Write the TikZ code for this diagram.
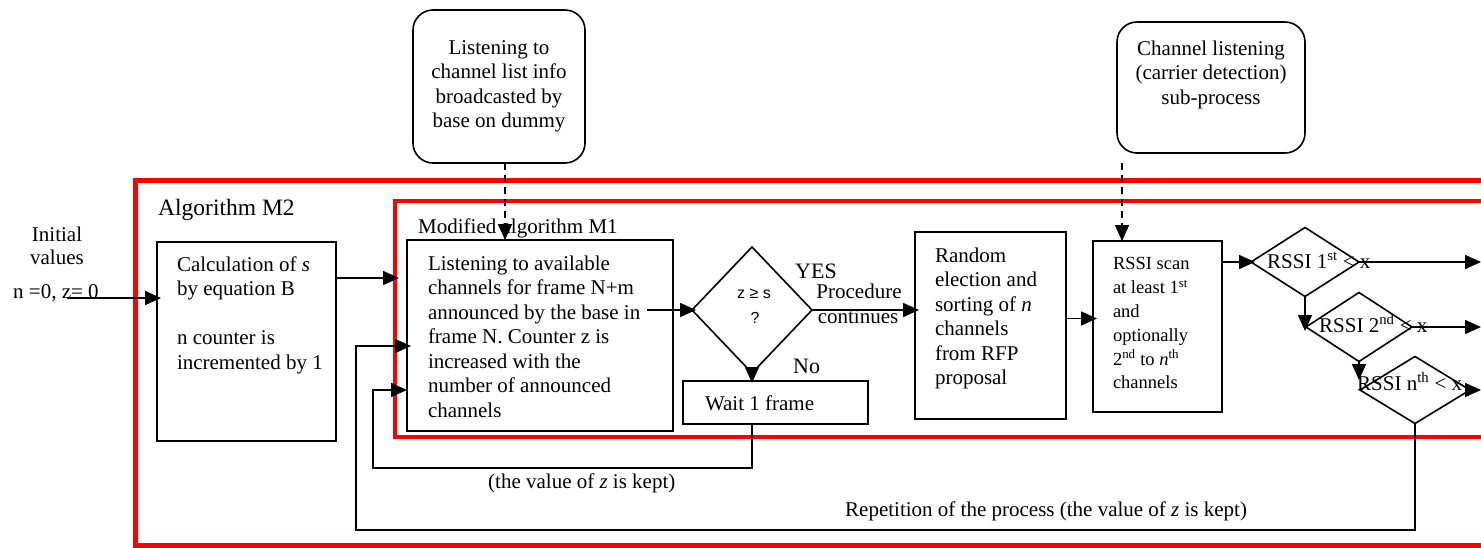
\documentclass[tikz,border=0pt]{standalone}
\usepackage{fontspec}
\setmainfont{Liberation Serif}
\newfontfamily\sansf{Liberation Sans}
\usetikzlibrary{arrows.meta,shapes.geometric}
\newcommand\bxt[5]{\hspace*{#3}\parbox[c][#2][t]{\dimexpr#1-#3\relax}{\vspace*{#4}\raggedright\strut #5}}
\newcommand\bxc[4]{\parbox[c][#2][t]{#1}{\vspace*{#3}\centering\strut #4}}
\tikzset{
  bx/.style={draw, line width=1.6pt, inner sep=0pt, outer sep=0pt, anchor=north west, rectangle},
  rbx/.style={bx, rounded corners=20pt},
  dia/.style={diamond, draw, line width=1.6pt, inner sep=0pt, outer sep=0pt},
  arr/.style={line width=1.6pt, -{Triangle[length=16pt,width=14pt]}, shorten >=-4pt},
  darr/.style={line width=1.6pt, -{Triangle[length=16pt,width=14pt]}, dash pattern=on 7pt off 5pt},
  lbl/.style={inner sep=0pt, anchor=base west},
  redframe/.style={draw=red}
}
\begin{document}
\begin{tikzpicture}[x=1pt,y=-1pt, every node/.style={font=\fontsize{21}{24.5}\selectfont}]
\useasboundingbox (0,0) rectangle (1481,547);
\clip (0,0) rectangle (1481,547);
% red frames
\draw[redframe, line width=5pt] (135,180) rectangle (1500,545);
\draw[redframe, line width=4pt] (395,201) rectangle (1500,437);

% boxes
\node[bx] (calc) at (157,242) {\bxt{179pt}{199pt}{20pt}{12pt}{Calculation of \textit{s}\\by equation B\\\mbox{}\\n counter is\\incremented by 1}};
\node[bx] (M1) at (407,240) {\bxt{266pt}{191pt}{21pt}{13pt}{Listening to available\\channels for frame N+m\\announced by the base in\\frame N. Counter z is\\increased with the\\number of announced\\channels}};
\node[bx] (wait) at (683,381) {\bxt{185pt}{43pt}{22pt}{12pt}{Wait 1 frame}};
\node[bx] (rand) at (915,232) {\bxt{151pt}{187pt}{20pt}{13pt}{Random\\election and\\sorting of \textit{n}\\channels\\from RFP\\proposal}};
\node[bx, font=\fontsize{18.5}{23.8}\selectfont] (scan) at (1093,241) {\bxt{129pt}{171pt}{20pt}{12.3pt}{RSSI scan\\at least 1\textsuperscript{st}\\and\\optionally\\2\textsuperscript{nd} to \textit{n}\textsuperscript{th}\\channels}};
\node[rbx] (rb1) at (413,10) {\bxc{172pt}{153pt}{27pt}{Listening to\\channel list info\\broadcasted by\\base on dummy}};
\node[rbx] (rb2) at (1117,22) {\bxc{188pt}{131pt}{16pt}{Channel listening\\(carrier detection)\\sub-process}};

% diamonds
\node[dia, minimum width=120pt, minimum height=126pt] (dz) at (752,310) {};
\node[dia, minimum width=108pt, minimum height=69pt] (d1) at (1305,262) {};
\node[dia, minimum width=106pt, minimum height=69pt] (d2) at (1359,327) {};
\node[dia, minimum width=110pt, minimum height=67pt] (d3) at (1415,390) {};

% labels
\node[lbl, font=\fontsize{23.5}{26}\selectfont] (algm2) at (158,215) {Algorithm M2};
\node[inner sep=0pt, anchor=base] (init1) at (57,241) {Initial};
\node[inner sep=0pt, anchor=base] (init2) at (57,264) {values};
\node[lbl] (init3) at (13,298) {n =0, z= 0};
\node[lbl] (m1lbl) at (418,233) {Modified algorithm M1};
\node[inner sep=0pt, anchor=base, font=\sansf\fontsize{16}{20}\selectfont] (dzt1) at (754,298) {z ≥ s};
\node[inner sep=0pt, anchor=base, font=\sansf\fontsize{16}{20}\selectfont] (dzt2) at (755,323) {?};
\node[lbl, font=\fontsize{22}{26}\selectfont] (yes) at (795,278) {YES};
\node[inner sep=0pt, anchor=base] (proc1) at (859,298) {Procedure};
\node[inner sep=0pt, anchor=base] (proc2) at (858,323) {continues};
\node[lbl, font=\fontsize{22}{26}\selectfont] (no) at (793,373) {No};
\node[lbl] (d1t) at (1267,268) {RSSI 1\textsuperscript{st} < x};
\node[lbl] (d2t) at (1319,332) {RSSI 2\textsuperscript{nd} < x};
\node[lbl] (d3t) at (1357,390) {RSSI n\textsuperscript{th} < x};
\node[lbl] (keep1) at (488,488) {(the value of \textit{z} is kept)};
\node[lbl] (keep2) at (845,516) {Repetition of the process (the value of \textit{z} is kept)};

% coordinates
\coordinate (rim) at (1477,0);
\coordinate (init) at (67,298);
\coordinate (cout) at ([yshift=-36pt]calc.north east);
\coordinate (m1in) at (395,278);
\coordinate (m1out) at ([xshift=-26pt]M1.east);
\coordinate (rout) at ([yshift=7pt]rand.east);
\coordinate (d3in) at ([yshift=14pt]d3.west);
\coordinate (wout) at ([xshift=-23.5pt]wait.south);
\coordinate (wl) at (373,468);
\coordinate (m1w2) at ([yshift=-54.5pt]M1.west);
\coordinate (bl) at (356,530);
\coordinate (m1w1) at ([yshift=-10.5pt]M1.west);
\coordinate (rb1o) at ([xshift=6pt]rb1.south);
\coordinate (rb2o) at ([xshift=5pt,yshift=-10pt]rb2.south west);

% connectors
\draw[arr] (init) -- (init -| calc.west);
\draw[arr] (cout) -- (m1in);
\draw[arr] (m1out |- dz.west) -- (dz.west);
\draw[arr] (dz.east) -- (dz.east -| rand.west);
\draw[arr, shorten >=-2pt] (dz.south) -- (dz.south |- wait.north);
\draw[arr] (rout) -- (rout -| scan.west);
\draw[arr] (d1.west -| scan.east) -- (d1.west);
\draw[arr] (d1.east) -- (d1.east -| rim);
\draw[arr] (d2.east) -- (d2.east -| rim);
\draw[arr] (d3.east) -- (d3.east -| rim);
\draw[arr] (d1.south) -- (d1.south |- d2.west);
\draw[arr] (d2.south) -- (d2.south |- d3in);
\draw[arr, shorten >=0pt] (wout) |- (wl) |- (m1w2);
\draw[arr] (d3.south) |- (bl) |- (m1w1);
\draw[darr] (rb1o) -- (rb1o |- M1.north);
\draw[darr] (rb2o) -- (rb2o |- scan.north);
\end{tikzpicture}
\end{document}
